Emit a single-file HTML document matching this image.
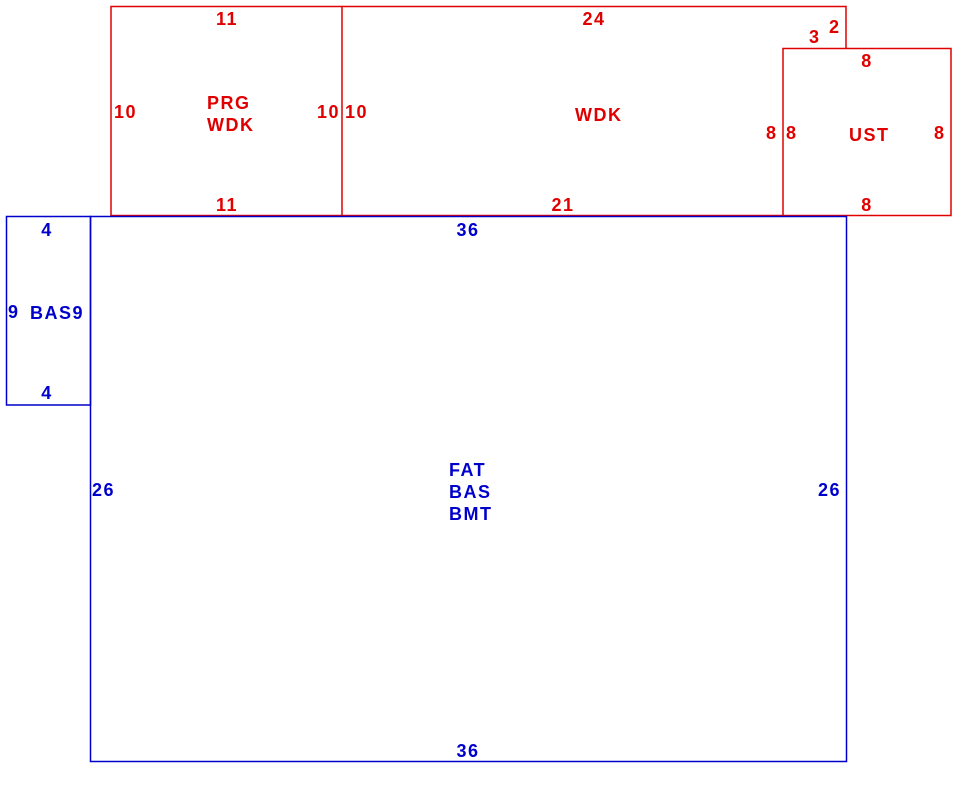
<!DOCTYPE html>
<html><head><meta charset="utf-8"><style>
html,body{margin:0;padding:0;background:#fff;}
svg{display:block;}
text{font-family:"Liberation Sans",Arial,sans-serif;font-weight:bold;font-size:18px;letter-spacing:1.5px;}
.r{fill:#e00000;} .b{fill:#0000cc;}
</style></head><body>
<svg width="970" height="798" viewBox="0 0 970 798" xmlns="http://www.w3.org/2000/svg">
<g fill="none" stroke="#e00000" stroke-width="1.5">
<rect x="111" y="6.5" width="231" height="209"/>
<polyline points="342,6.5 846,6.5 846,48.5"/>
<rect x="783" y="48.5" width="168" height="167"/>
<line x1="342" y1="215.5" x2="783" y2="215.5"/>
</g>
<g fill="none" stroke="#0000cc" stroke-width="1.5">
<rect x="6.5" y="216.5" width="84" height="188.5"/>
<rect x="90.5" y="216.5" width="756" height="545"/>
</g>
<g class="r">
<text x="227" y="25" text-anchor="middle">11</text>
<text x="114" y="118">10</text>
<text x="207" y="109">PRG</text>
<text x="207" y="131">WDK</text>
<text x="340" y="118" text-anchor="end">10</text>
<text x="345" y="118">10</text>
<text x="227" y="211" text-anchor="middle">11</text>
<text x="594" y="25" text-anchor="middle">24</text>
<text x="575" y="121">WDK</text>
<text x="809" y="43">3</text>
<text x="829" y="33">2</text>
<text x="766" y="139">8</text>
<text x="786" y="139">8</text>
<text x="849" y="141">UST</text>
<text x="934" y="139">8</text>
<text x="867" y="67" text-anchor="middle">8</text>
<text x="867" y="211" text-anchor="middle">8</text>
<text x="563" y="211" text-anchor="middle">21</text>
</g>
<g class="b">
<text x="47" y="236" text-anchor="middle">4</text>
<text x="8" y="318">9</text>
<text x="30" y="319">BAS9</text>
<text x="47" y="399" text-anchor="middle">4</text>
<text x="468" y="236" text-anchor="middle">36</text>
<text x="92" y="496">26</text>
<text x="818" y="496">26</text>
<text x="449" y="476">FAT</text>
<text x="449" y="498">BAS</text>
<text x="449" y="520">BMT</text>
<text x="468" y="757" text-anchor="middle">36</text>
</g>
</svg>
</body></html>
